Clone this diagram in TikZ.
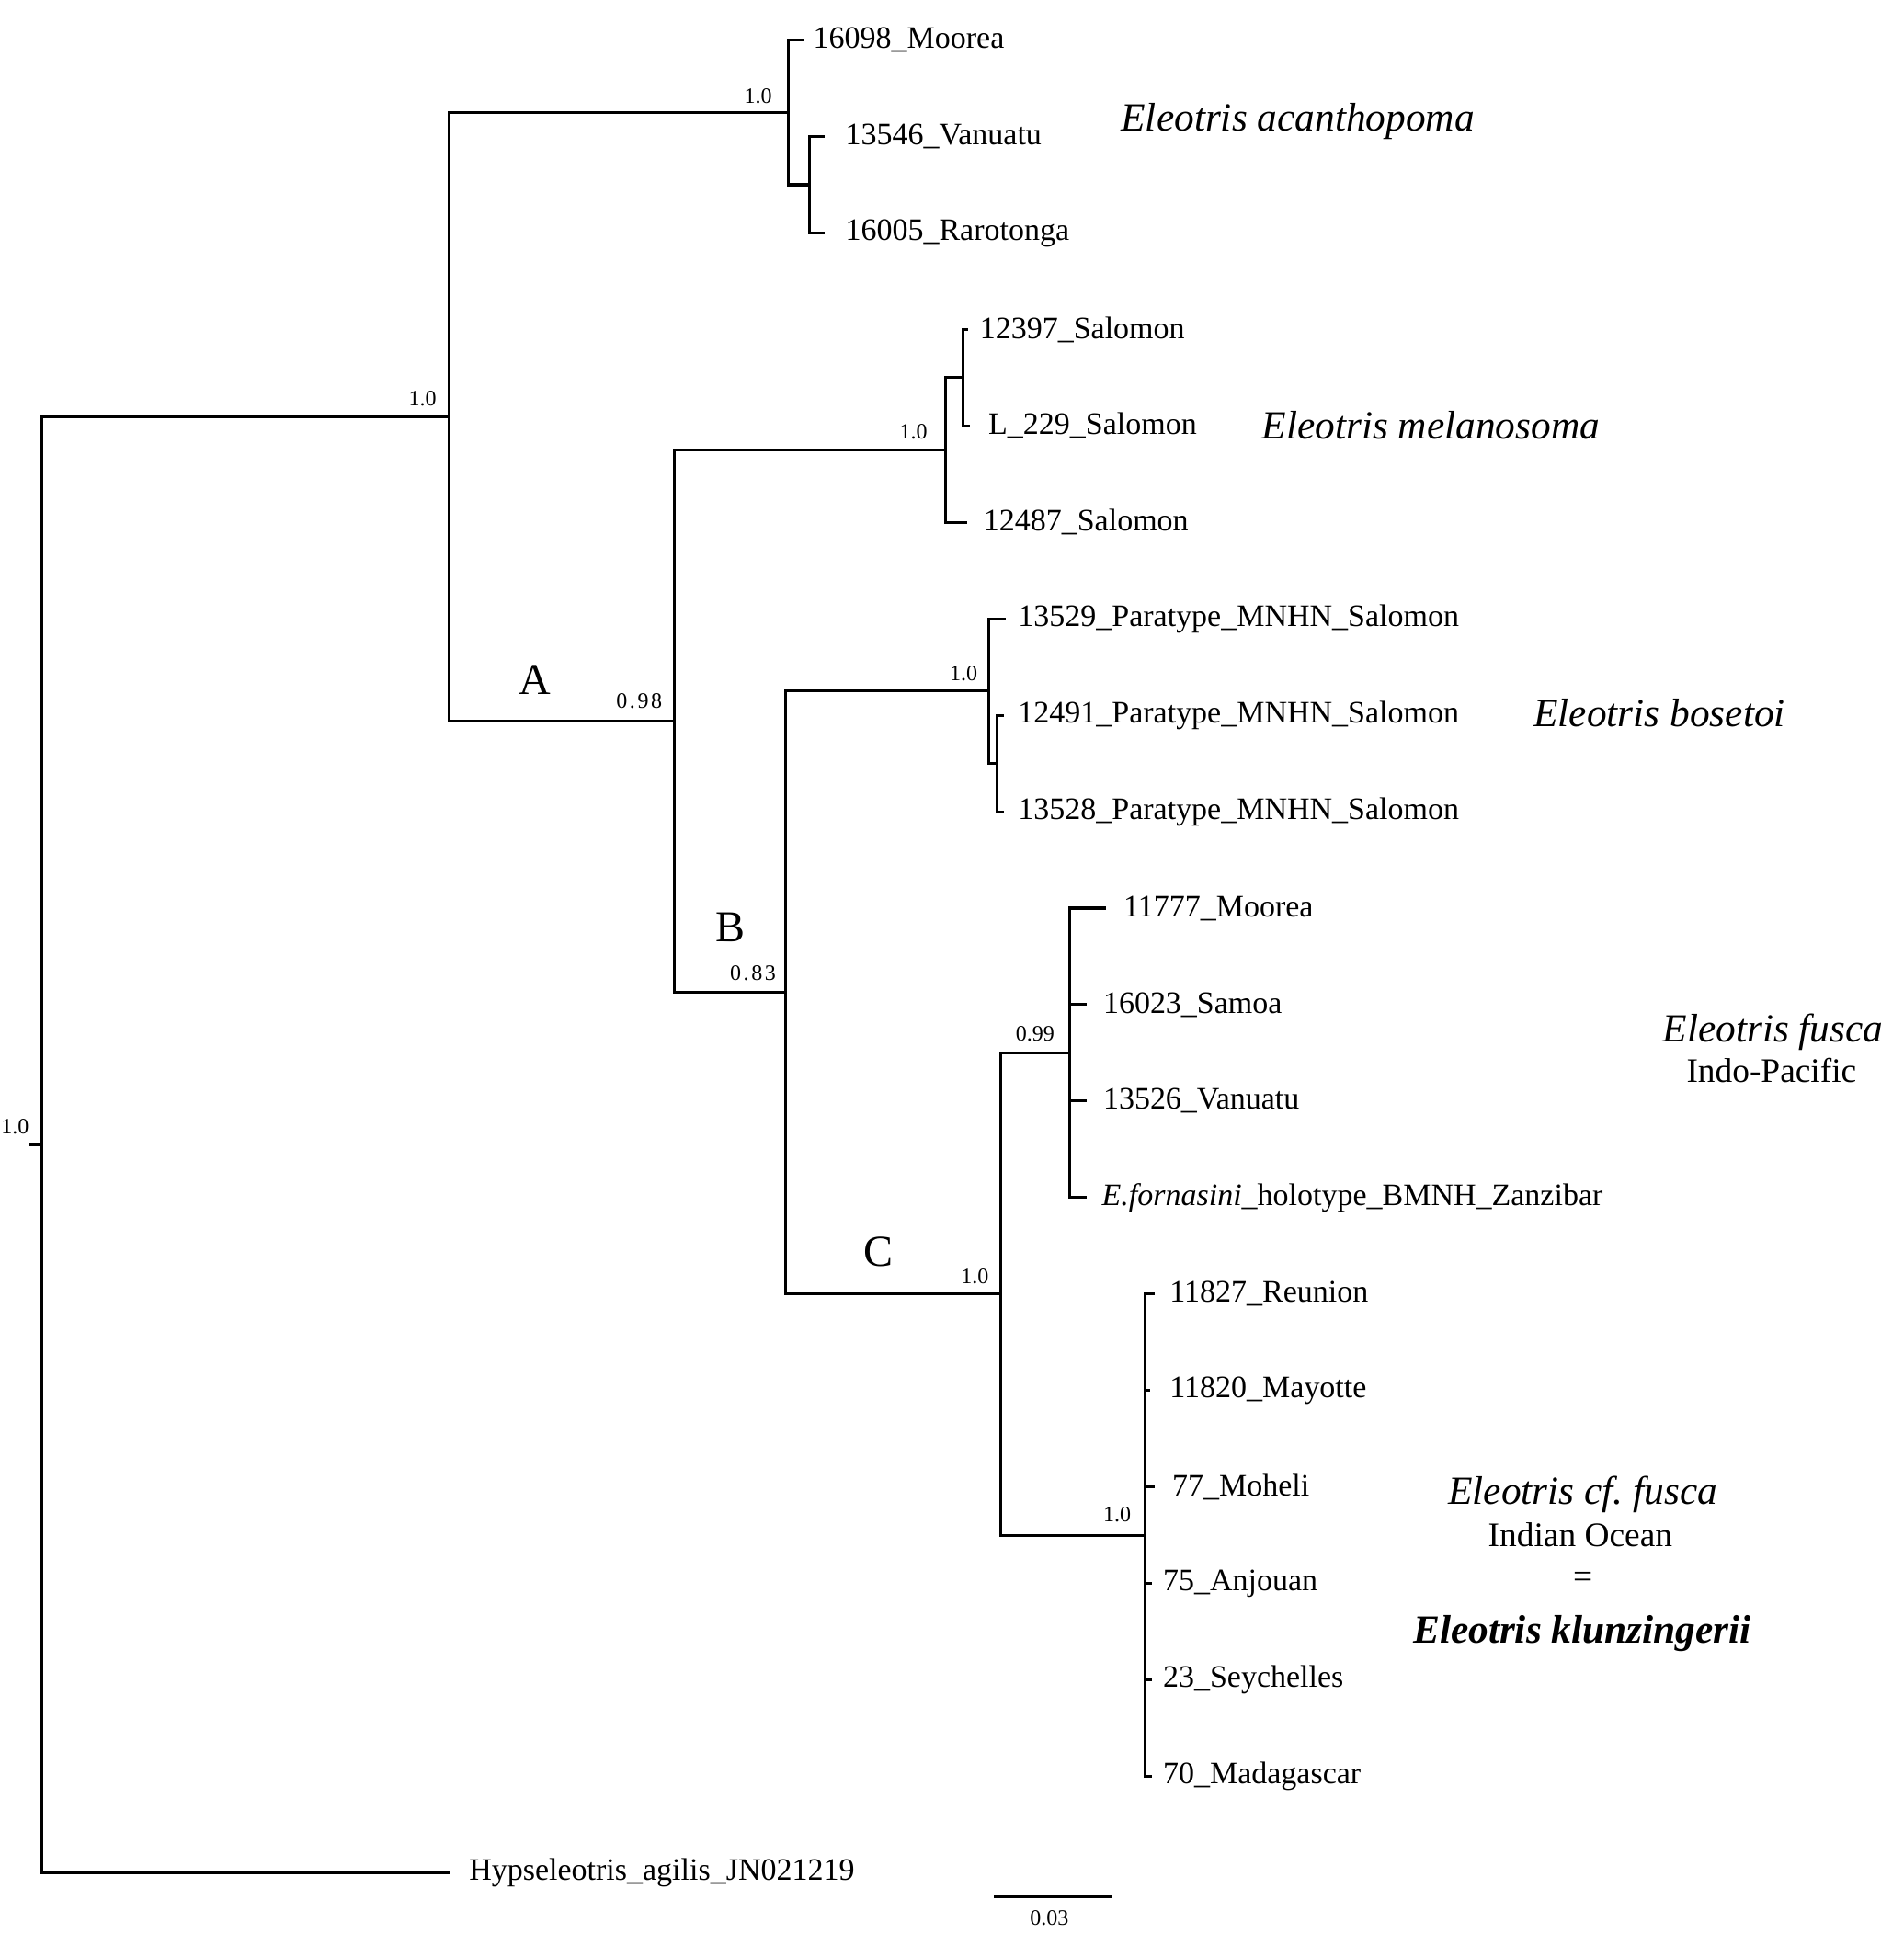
\documentclass[tikz,border=0pt]{standalone}
\usepackage{fontspec}
\setmainfont{Liberation Serif}
\frenchspacing
\begin{document}
\begin{tikzpicture}[x=0.6711pt,y=-0.6711pt,
  br/.style={line width=1.55pt,line cap=rect,line join=miter},
  tip/.style={anchor=west,inner sep=0pt,font=\fontsize{17}{20}\selectfont},
  species/.style={inner sep=0pt,font=\fontsize{21.7}{26}\selectfont\itshape},
  region/.style={inner sep=0pt,anchor=base,font=\fontsize{18.7}{22}\selectfont},
  support/.style={inner sep=0pt,anchor=base east,font=\fontsize{12}{14}\selectfont},
  clade/.style={inner sep=0pt,anchor=base,font=\fontsize{24}{28}\selectfont}]
\useasboundingbox (0,0) rectangle (1543,1568);

% internal nodes and tip ends
\coordinate (root) at (34,928.2);
\coordinate (rtick) at (24,928.2);
\coordinate (n1) at (364,338);
\coordinate (hyp) at (364,1518.3);
\coordinate (an) at (639,91.15);
\coordinate (t0) at (650,32.5);
\coordinate (as) at (656,149.8);
\coordinate (t1) at (667,110.7);
\coordinate (t2) at (667,188.9);
\coordinate (A) at (546.5,584.8);
\coordinate (mn) at (766.5,364.85);
\coordinate (ms) at (780.5,306.2);
\coordinate (t3) at (783.5,267.1);
\coordinate (t4) at (785,345.3);
\coordinate (t5) at (783,423.5);
\coordinate (B) at (636.5,804.7);
\coordinate (bn) at (801.5,560.35);
\coordinate (t6) at (814,501.7);
\coordinate (bs) at (808.5,619);
\coordinate (t7) at (812.5,579.9);
\coordinate (t8) at (812.5,658.1);
\coordinate (C) at (811.5,1049.1);
\coordinate (fn) at (867,853.6);
\coordinate (t9) at (895,736.3);
\coordinate (t10) at (880,814.5);
\coordinate (t11) at (880,892.7);
\coordinate (t12) at (880,970.9);
\coordinate (kn) at (928,1244.6);
\coordinate (t13) at (935,1049.1);
\coordinate (t14) at (931.5,1127.3);
\coordinate (t15) at (935,1205.5);
\coordinate (t16) at (933,1283.7);
\coordinate (t17) at (933,1361.9);
\coordinate (t18) at (933,1440.1);
\coordinate (sb1) at (807,1537.6);
\coordinate (sb2) at (900.5,1537.6);

% branches
\draw[br] (root) -- (rtick);
\draw[br] (root) |- (n1);
\draw[br] (root) |- (hyp);
\draw[br] (n1) |- (an);
\draw[br] (n1) |- (A);
\draw[br] (an) |- (t0);
\draw[br] (an) |- (as);
\draw[br] (as) |- (t1);
\draw[br] (as) |- (t2);
\draw[br] (A) |- (mn);
\draw[br] (A) |- (B);
\draw[br] (mn) |- (ms);
\draw[br] (mn) |- (t5);
\draw[br] (ms) |- (t3);
\draw[br] (ms) |- (t4);
\draw[br] (B) |- (bn);
\draw[br] (B) |- (C);
\draw[br] (bn) |- (t6);
\draw[br] (bn) |- (bs);
\draw[br] (bs) |- (t7);
\draw[br] (bs) |- (t8);
\draw[br] (C) |- (fn);
\draw[br] (C) |- (kn);
\draw[br] (fn) |- (t9);
\draw[br] (fn) |- (t10);
\draw[br] (fn) |- (t11);
\draw[br] (fn) |- (t12);
\draw[br] (kn) |- (t13);
\draw[br] (kn) |- (t14);
\draw[br] (kn) |- (t15);
\draw[br] (kn) |- (t16);
\draw[br] (kn) |- (t17);
\draw[br] (kn) |- (t18);
\draw[br] (sb1) -- (sb2);

% tip labels
\node[tip] (l0) at (659,32.5) {16098\_Moorea};
\node[tip] (l1) at (685,110.7) {13546\_Vanuatu};
\node[tip] (l2) at (685,188.9) {16005\_Rarotonga};
\node[tip] (l3) at (794,267.1) {12397\_Salomon};
\node[tip] (l4) at (801,345.3) {L\_229\_Salomon};
\node[tip] (l5) at (797,423.5) {12487\_Salomon};
\node[tip] (l6) at (825,501.7) {13529\_Paratype\_MNHN\_Salomon};
\node[tip] (l7) at (825,579.9) {12491\_Paratype\_MNHN\_Salomon};
\node[tip] (l8) at (825,658.1) {13528\_Paratype\_MNHN\_Salomon};
\node[tip] (l9) at (910.5,736.3) {11777\_Moorea};
\node[tip] (l10) at (894,814.5) {16023\_Samoa};
\node[tip] (l11) at (894,892.7) {13526\_Vanuatu};
\node[tip] (l12) at (893,970.9) {\textit{E.fornasini}\_holotype\_BMNH\_Zanzibar};
\node[tip] (l13) at (948,1049.1) {11827\_Reunion};
\node[tip] (l14) at (948,1127.3) {11820\_Mayotte};
\node[tip] (l15) at (950,1205.5) {77\_Moheli};
\node[tip] (l16) at (942.5,1283.7) {75\_Anjouan};
\node[tip] (l17) at (942.5,1361.9) {23\_Seychelles};
\node[tip] (l18) at (942.5,1440.1) {70\_Madagascar};
\node[tip] (l19) at (380,1518.3) {Hypseleotris\_agilis\_JN021219};

% support values
\node[support] (s0) at (23.7,919.5) {1.0};
\node[support] (s1) at (354,329.1) {1.0};
\node[support] (s2) at (626,83.7) {1.0};
\node[support] (s3) at (752,356) {1.0};
\node[support] (s4) at (537,574.2) {0\kern1.3pt.\kern1.3pt9\kern1.3pt8};
\node[support] (s5) at (792.6,552) {1.0};
\node[support] (s6) at (629.2,795) {0\kern1.3pt.\kern1.3pt8\kern1.3pt3};
\node[support] (s7) at (801.7,1040.4) {1.0};
\node[support] (s8) at (855,844) {0.99};
\node[support] (s9) at (917,1233.5) {1.0};
\node[inner sep=0pt,anchor=base,font=\fontsize{12}{14}\selectfont] (scale) at (850.6,1561) {0.03};

% clade letters
\node[clade] (cA) at (433.7,563.3) {A};
\node[clade] (cB) at (592.4,763.2) {B};
\node[clade] (cC) at (712,1026.7) {C};

% species names
\node[species,anchor=base west] (sp1) at (908.5,106.3) {Eleotris acanthopoma};
\node[species,anchor=base west] (sp2) at (1022.6,356) {Eleotris melanosoma};
\node[species,anchor=base west] (sp3) at (1243,589.4) {Eleotris bosetoi};
\node[species,anchor=base west] (sp4) at (1347.6,844.7) {Eleotris fusca};
\node[region] (rg4) at (1436,877.4) {Indo-Pacific};
\node[species,anchor=base] (sp5) at (1283,1219.5) {Eleotris cf. fusca};
\node[region] (rg5) at (1281,1253.7) {Indian Ocean};
\node[region] (eq) at (1283,1287.5) {=};
\node[species,anchor=base,font=\fontsize{21.7}{26}\selectfont\bfseries\itshape] (sp6) at (1282.5,1332.4) {Eleotris klunzingerii};
\end{tikzpicture}
\end{document}
